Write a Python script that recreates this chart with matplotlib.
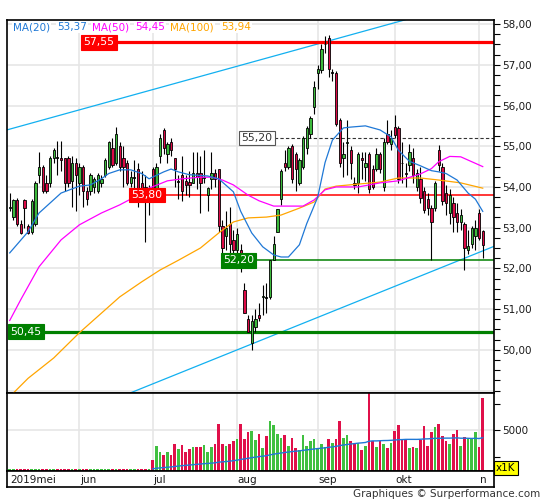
import numpy as np
import pandas as pd
import matplotlib
matplotlib.use('Agg')
import matplotlib.pyplot as plt
from matplotlib.ticker import FuncFormatter, FixedLocator

# trading days shown on the chart
dates = pd.bdate_range('2019-05-07', '2019-11-04')
month_labels = ['2019mei', 'jun', 'jul', 'aug', 'sep', 'okt', 'n']

opens = [53.48, 53.26, 53.68, 53.10, 53.68, 53.05, 52.90, 53.10, 54.30, 54.50,
         54.10, 54.10, 54.70, 54.72, 54.70, 54.70, 54.70, 54.15, 54.60, 54.10,
         54.50, 53.90, 53.90, 54.00, 53.90, 54.10, 54.30, 54.50, 54.95, 54.60,
         55.00, 54.70, 54.60, 54.10, 54.20, 54.45, 54.10, 54.00, 53.75, 54.45,
         53.95, 54.75, 55.40, 54.80, 55.10, 54.70, 54.10, 54.30, 54.15, 54.12,
         54.10, 54.35, 54.35, 54.20, 53.80, 54.20, 54.35, 54.45, 53.05, 52.80,
         53.10, 52.70, 52.45, 52.45, 51.47, 50.75, 50.17, 50.55, 50.85, 51.30,
         51.30, 51.30, 52.20, 52.90, 53.70, 54.60, 54.50, 55.00, 54.80, 54.10,
         54.50, 54.95, 55.30, 55.96, 56.80, 56.88, 57.50, 57.65, 56.80, 56.80,
         55.65, 54.70, 55.08, 54.90, 54.10, 54.10, 54.70, 54.50, 54.80, 54.45,
         54.45, 54.80, 54.00, 55.30, 55.05, 55.47, 55.45, 54.60, 54.35, 54.55,
         54.70, 54.00, 54.20, 53.90, 53.70, 53.48, 53.48, 54.90, 54.50, 53.85,
         53.36, 53.60, 53.35, 53.15, 53.10, 52.45, 52.60, 52.80, 53.35, 52.92]
highs = [53.85, 53.70, 53.72, 53.20, 53.70, 53.10, 53.70, 54.15, 54.85, 54.55,
         54.30, 54.75, 54.95, 55.12, 55.12, 54.70, 54.75, 54.75, 54.70, 54.60,
         54.55, 54.00, 54.35, 54.25, 54.35, 54.30, 54.70, 55.12, 55.20, 55.47,
         55.10, 55.00, 54.65, 54.40, 54.65, 54.60, 54.40, 54.30, 54.05, 54.50,
         54.60, 55.30, 55.45, 55.10, 55.20, 54.70, 54.30, 54.75, 54.30, 54.40,
         54.85, 54.85, 54.75, 54.90, 54.00, 54.85, 54.45, 54.45, 53.20, 53.40,
         53.50, 52.95, 53.00, 52.60, 51.65, 50.85, 50.85, 51.00, 51.15, 51.60,
         51.65, 52.20, 52.80, 53.45, 54.45, 54.90, 55.00, 55.05, 54.85, 54.70,
         55.25, 55.50, 55.75, 56.60, 57.00, 57.50, 57.70, 57.73, 56.90, 56.85,
         55.70, 55.10, 55.65, 55.00, 54.25, 54.85, 54.85, 54.85, 54.85, 54.55,
         54.95, 54.85, 55.20, 55.65, 55.40, 55.76, 55.50, 55.10, 54.60, 55.05,
         54.95, 54.45, 54.50, 54.00, 53.85, 53.55, 54.15, 55.03, 54.60, 54.05,
         53.95, 53.75, 53.60, 53.45, 53.15, 52.95, 53.05, 53.20, 53.45, 52.95]
lows = [53.40, 53.20, 53.05, 52.85, 53.00, 52.85, 52.85, 53.05, 54.10, 53.85,
        53.85, 54.00, 54.60, 54.30, 54.40, 53.90, 54.00, 53.50, 53.40, 53.80,
        53.50, 53.55, 53.80, 53.85, 53.85, 54.00, 54.25, 54.45, 54.50, 54.55,
        54.40, 54.00, 54.05, 54.00, 53.90, 53.50, 53.70, 52.65, 53.30, 53.80,
        53.90, 54.60, 54.80, 54.60, 54.75, 54.00, 53.70, 53.65, 53.80, 53.75,
        54.10, 53.95, 53.35, 54.10, 53.40, 53.95, 54.00, 52.90, 52.33, 52.45,
        52.15, 52.30, 52.30, 51.90, 50.90, 50.45, 50.00, 50.45, 50.70, 50.85,
        50.90, 51.25, 52.20, 52.90, 53.55, 54.40, 54.45, 54.10, 53.90, 54.05,
        54.45, 54.80, 55.20, 55.80, 56.40, 56.80, 57.30, 56.70, 56.60, 55.50,
        54.50, 54.25, 54.30, 54.20, 53.95, 53.85, 54.20, 54.15, 53.85, 53.95,
        54.40, 54.35, 53.90, 55.05, 54.90, 55.20, 54.10, 54.10, 54.00, 54.40,
        54.10, 53.90, 53.60, 53.35, 53.30, 52.20, 53.40, 54.40, 53.55, 53.30,
        53.10, 52.90, 52.90, 52.95, 51.95, 52.35, 52.50, 52.45, 52.70, 52.25]
closes = [53.50, 53.68, 53.10, 52.88, 53.48, 52.88, 53.65, 54.10, 54.50, 53.90,
          53.90, 54.70, 54.90, 54.70, 54.65, 54.10, 54.10, 54.60, 54.30, 54.50,
          53.90, 53.70, 54.30, 54.20, 54.30, 54.20, 54.65, 55.10, 54.55, 55.30,
          54.50, 54.50, 54.10, 54.25, 54.21, 53.70, 53.75, 53.70, 53.90, 53.90,
          54.50, 55.20, 54.95, 55.05, 54.90, 54.45, 54.12, 53.90, 54.05, 54.05,
          54.35, 54.25, 54.10, 54.22, 53.97, 54.35, 54.20, 53.05, 52.50, 53.00,
          52.60, 52.45, 52.85, 52.00, 50.90, 50.45, 50.70, 50.75, 50.78, 51.32,
          51.28, 52.20, 52.60, 53.45, 54.40, 54.48, 54.95, 54.20, 54.45, 54.65,
          55.20, 55.45, 55.70, 56.45, 56.90, 57.40, 57.52, 56.90, 56.81, 55.55,
          54.60, 54.80, 55.10, 54.60, 54.05, 54.80, 54.65, 54.60, 53.95, 54.00,
          54.80, 54.45, 55.10, 55.10, 55.20, 55.27, 54.20, 54.58, 54.33, 54.85,
          54.30, 54.35, 53.73, 53.43, 53.48, 53.15, 54.10, 54.55, 53.65, 53.60,
          53.80, 53.25, 53.15, 53.30, 52.50, 52.55, 53.00, 53.00, 52.75, 52.57]

# volume in thousands
volume = [220, 250, 210, 260, 230, 240, 220, 270, 230, 250,
          210, 240, 260, 220, 230, 250, 240, 220, 230, 210,
          250, 240, 230, 220, 260, 240, 230, 250, 220, 240,
          230, 210, 250, 240, 220, 260, 230, 240, 250,
          1400, 3070, 2280, 1930, 2370, 1930, 3250, 2720, 3160, 2370,
          2630, 2940, 2940, 2940, 3160, 2370, 2940, 3250, 5700, 3290,
          3070, 3290, 3680, 3950, 5700, 3950, 4780, 4910, 3820, 4560,
          2800, 4250, 6100, 5610, 4560, 4040, 4390, 3070, 4040, 2800,
          2500, 4390, 3070, 3680, 3950, 2800, 3290, 2940, 3950, 3380,
          3950, 6100, 4040, 4390, 3600, 3250, 3380, 2500, 3070, 9500,
          3600, 2940, 3680, 3250, 2800, 3380, 4910, 5570, 3820, 3820,
          2800, 2940, 2800, 3820, 5440, 3070, 4780, 5350, 5700, 4250,
          3600, 3250, 4560, 5000, 3070, 4120, 3950, 3950, 4780, 2940, 8860]

# moving averages (candle index, value)
ma20_idx = [0, 5, 8, 14, 19, 22, 25, 27, 30, 33, 36, 38, 42, 44, 46, 49, 54, 57, 61, 63,
            66, 69, 72, 74, 76, 77, 79, 81, 84, 86, 88, 91, 93, 97, 101, 104, 106, 109,
            112, 115, 117, 119, 122, 125, 127, 129]
ma20_val = [52.38, 52.90, 53.36, 53.85, 54.02, 54.05, 54.20, 54.33, 54.42, 54.42, 54.33,
            54.20, 54.37, 54.44, 54.37, 54.30, 54.27, 54.20, 53.88, 53.40, 52.87, 52.53,
            52.33, 52.28, 52.28, 52.38, 52.58, 53.10, 53.75, 54.60, 55.15, 55.45, 55.47,
            55.50, 55.40, 55.23, 54.90, 54.63, 54.52, 54.40, 54.37, 54.33, 54.17, 53.85,
            53.70, 53.40]
ma50_idx = [0, 3, 8, 14, 19, 25, 30, 34, 38, 43, 47, 52, 55, 58, 61, 65, 68, 72, 80, 83,
            86, 89, 95, 101, 106, 112, 115, 117, 120, 123, 125, 129]
ma50_val = [50.72, 51.23, 52.04, 52.70, 53.07, 53.36, 53.56, 53.75, 53.97, 54.15, 54.20,
            54.24, 54.24, 54.17, 54.05, 53.80, 53.66, 53.53, 53.53, 53.68, 53.93, 54.00,
            54.00, 54.10, 54.15, 54.32, 54.45, 54.62, 54.75, 54.74, 54.66, 54.50]
ma100_idx = [0, 5, 12, 19, 25, 30, 36, 41, 46, 52, 57, 61, 65, 70, 74, 79, 83, 86, 89,
             95, 101, 106, 112, 117, 123, 129]
ma100_val = [48.85, 49.30, 49.80, 50.42, 50.90, 51.30, 51.67, 51.96, 52.20, 52.50, 52.87,
             53.14, 53.24, 53.26, 53.31, 53.48, 53.63, 53.95, 54.02, 54.07, 54.12, 54.22,
             54.22, 54.17, 54.10, 53.97]
legend_names = ['MA(20)', 'MA(50)', 'MA(100)']
legend_vals = ['53,37', '54,45', '53,94']

# support / resistance levels and where they start (candle index)
levels = [57.55, 55.20, 53.80, 52.20, 50.45]
level_start = [20, 63, 33, 58, 0]

# trend channel anchors (candle index, price)
upper_line = [(0, 55.42), (100, 57.91)]
lower_line = [(40, 49.20), (129, 52.43)]

GREEN = '#3cb93c'
RED = '#dc0a46'
BLUE = '#1f78d6'
MAG = '#ff00ff'
ORA = '#ffa500'
CYAN = '#12b0f0'
GRID = '#e6e6e6'
LRED = '#ff0000'
LGREEN = '#008000'

o = np.array(opens); h = np.array(highs); l = np.array(lows); c = np.array(closes)
x = np.arange(len(dates))
up = c >= o
months = pd.Series(dates.month)
mstart = list(np.where(months.diff().fillna(1) != 0)[0])

fig = plt.figure(figsize=(5.45, 5.0), dpi=100)
W, H = 545.0, 500.0
ax = fig.add_axes([7/W, 1-393/H, 487/W, 373/H])
axv = fig.add_axes([7/W, 1-471/H, 487/W, 78/H], sharex=ax)
axd = fig.add_axes([7/W, 1-487/H, 487/W, 16/H], sharex=ax)

xmin, xmax = -0.74, 132.07
ax.set_xlim(xmin, xmax)
ax.set_ylim(48.94, 58.1)

# grid
for m in mstart[1:]:
    ax.axvline(m, color=GRID, lw=1.2, zorder=0)
    axv.axvline(m, color=GRID, lw=1.2, zorder=0)
for p in range(49, 59):
    ax.axhline(p, color=GRID, lw=1.2, zorder=0)
axv.axhline(5000, color=GRID, lw=1.2, zorder=0)

# trend channel
for (i1, p1), (i2, p2) in [upper_line, lower_line]:
    k = (p2 - p1) / (i2 - i1)
    xs = np.array([xmin, xmax])
    ax.plot(xs, p1 + k * (xs - i1), color=CYAN, lw=0.9, zorder=1)

# levels
lvl_style = {57.55: (LRED, 2.3, '-', LRED, 'white'),
             55.20: ('#333333', 0.8, (0, (3, 2)), 'white', '#333333'),
             53.80: (LRED, 1.1, '-', LRED, 'white'),
             52.20: (LGREEN, 1.1, '-', LGREEN, 'white'),
             50.45: (LGREEN, 2.3, '-', LGREEN, 'white')}
for v, s in zip(levels, level_start):
    col, lw, ls, bg, fg = lvl_style[v]
    ax.plot([s, xmax], [v, v], color=col, lw=lw, ls=ls, zorder=2)
    ec = '#555555' if bg == 'white' else bg
    ax.text(max(s, xmin) + 0.15, v, f'{v:.2f}'.replace('.', ','), color=fg, fontsize=7.8,
            va='center', ha='left', zorder=6,
            bbox=dict(boxstyle='square,pad=0.22', fc=bg, ec=ec, lw=0.8))

# moving averages
ax.plot(ma100_idx, ma100_val, color=ORA, lw=0.9, zorder=4)
ax.plot(ma50_idx, ma50_val, color=MAG, lw=0.9, zorder=4)
ax.plot(ma20_idx, ma20_val, color=BLUE, lw=0.9, zorder=4)

# candles
ax.vlines(x, l, h, color='black', lw=0.8, zorder=3)
body = np.abs(c - o)
doji = body < 0.02
ax.bar(x[~doji], body[~doji], bottom=np.minimum(o, c)[~doji], width=0.62,
       color=np.where(up, GREEN, RED)[~doji], edgecolor='black', linewidth=0.6, zorder=3)
ax.hlines(c[doji], x[doji] - 0.4, x[doji] + 0.4, color='black', lw=1.2, zorder=3)

# legend text
lx = [0.0123, 0.1027, 0.1745, 0.2628, 0.3347, 0.4394]
cols = [BLUE, MAG, ORA]
for k in range(3):
    for j, t in enumerate([legend_names[k], legend_vals[k]]):
        ax.text(lx[2*k + j], 0.981, t, transform=ax.transAxes, color=cols[k], fontsize=7.5,
                va='center', ha='left', zorder=6,
                bbox=dict(boxstyle='square,pad=0.1', fc='white', ec='none'))

# price axis
ax.yaxis.tick_right()
ax.yaxis.set_major_locator(FixedLocator(list(range(50, 59))))
ax.yaxis.set_minor_locator(FixedLocator(list(np.arange(49, 58.1, 0.25))))
ax.yaxis.set_major_formatter(FuncFormatter(lambda v, p: f'{v:.2f}'.replace('.', ',')))
ax.tick_params(axis='y', which='both', direction='out', length=4, width=0.8,
               labelsize=7.5, labelcolor='#1a1a1a', pad=2)
ax.tick_params(axis='x', which='both', bottom=False, labelbottom=False)

# volume
vol = np.array(volume, dtype=float)
axv.bar(x, vol, width=0.7, color=np.where(up, '#40c040', '#e0104a'), zorder=2)
vma = pd.Series(vol).rolling(60, min_periods=1).mean()
axv.plot(x[39:], vma[39:], color=BLUE, lw=1.0, zorder=3)
axv.set_ylim(0, 9500)
axv.yaxis.tick_right()
axv.yaxis.set_major_locator(FixedLocator([5000]))
axv.yaxis.set_minor_locator(FixedLocator([1650, 8100]))
axv.tick_params(axis='y', which='both', direction='out', length=4, width=0.8,
                labelsize=7.5, labelcolor='#1a1a1a', pad=2)
axv.tick_params(axis='x', which='both', bottom=False, labelbottom=False)
fig.text(496/W, 1-468/H, 'x1K', fontsize=7.5, va='center', ha='left',
         bbox=dict(boxstyle='square,pad=0.2', fc='#ffff00', ec='black', lw=0.8))

# month row
axd.set_ylim(0, 1)
axd.set_yticks([])
axd.tick_params(axis='x', which='both', bottom=False, labelbottom=False)
for m, lab in zip(mstart, month_labels):
    axd.text(m + 0.2, 0.45, lab, fontsize=7.5, va='center', ha='left', color='#1a1a1a')

for a in (ax, axv, axd):
    for sp in a.spines.values():
        sp.set_linewidth(1.2)
        sp.set_color('black')

fig.text(540/W, 1-494/H, 'Graphiques \u00a9 Surperformance.com', fontsize=7.5,
         ha='right', va='center', color='#333333')

fig.savefig('out.png', dpi=100)
